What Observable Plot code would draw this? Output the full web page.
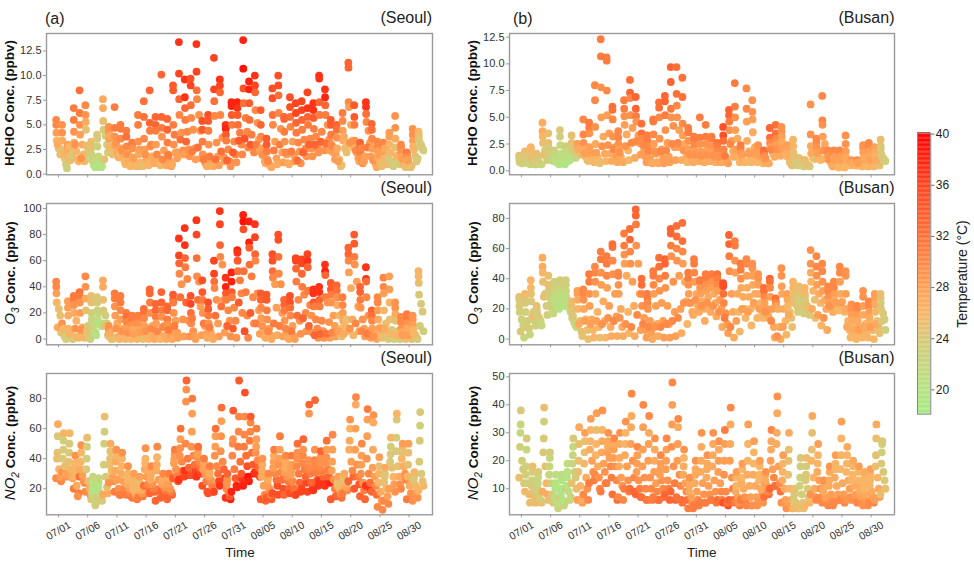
<!DOCTYPE html>
<html><head><meta charset="utf-8">
<script src="https://cdn.jsdelivr.net/npm/d3@7"></script>
<script src="https://cdn.jsdelivr.net/npm/@observablehq/plot@0.6"></script>
<style>
html,body{margin:0;padding:0;background:#fff}
#page{position:relative;width:974px;height:564px;overflow:hidden;font-family:"Liberation Sans",Arial,sans-serif;color:#222}
#page svg{position:absolute;overflow:visible;background:transparent}
.t{position:absolute;white-space:nowrap;line-height:1}
.rot{transform:translate(-50%,-50%) rotate(-90deg);font-size:13.5px;font-weight:bold;color:#111}
.rot i{font-weight:normal;font-size:15px}
.rot sub{font-size:10px;line-height:0}
</style></head><body><div id="page"></div>
<script>
// rows: one per day, eight readings each
const seoulTemp=[
30,30,28,26,25,25,24,27, 29,29,27,25,24,24,23,26, 28,28,27,26,25,24,24,26, 31,31,29,27,26,26,26,29,
32,31,29,28,27,26,26,29, 30,29,27,25,24,23,23,25, 25,25,23,22,21,20,20,22, 24,24,23,21,20,20,20,22,
27,27,25,24,23,23,23,25, 29,29,28,26,25,25,25,27, 31,31,29,28,27,27,26,29, 31,31,30,28,27,26,26,29,
31,32,30,28,27,26,26,29, 31,31,29,27,26,26,26,28, 31,31,29,27,26,26,25,28, 32,32,30,28,27,26,26,29,
33,33,31,29,27,27,27,30, 33,33,31,28,27,27,26,30, 33,33,31,29,28,27,27,30, 33,33,31,29,28,28,27,31,
34,34,31,29,28,28,28,31, 37,36,33,30,29,29,28,32, 37,37,33,31,30,29,29,33, 35,36,32,30,29,28,28,31,
37,36,32,30,29,28,28,32, 35,34,31,29,28,28,27,31, 35,34,31,29,28,27,27,31, 36,36,32,30,29,28,28,32,
37,36,33,30,29,29,28,32, 37,38,34,31,30,29,29,33, 38,38,34,31,30,30,29,34, 38,37,34,32,31,30,30,34,
38,39,35,32,31,30,30,35, 38,38,34,32,31,30,30,34, 37,36,33,30,29,28,28,31, 34,33,30,28,27,27,27,29,
34,34,31,29,28,27,27,30, 35,35,32,30,28,28,27,31, 35,35,32,30,29,28,28,31, 33,33,31,29,28,27,27,30,
35,35,32,30,28,28,28,31, 36,36,33,31,30,29,29,32, 36,36,33,31,30,30,29,33, 36,37,33,31,30,29,29,33,
37,37,34,31,30,30,29,33, 37,37,33,31,30,29,29,33, 37,38,33,31,29,29,28,32, 34,34,31,29,28,28,28,30,
33,32,29,27,26,25,25,28, 31,30,28,27,26,25,25,27, 33,33,30,28,27,27,26,29, 34,34,31,29,28,28,27,30,
33,33,31,29,29,28,28,30, 37,37,32,30,29,28,28,31, 33,32,30,28,28,27,27,29, 30,30,28,27,26,26,25,28,
30,30,28,26,25,25,24,27, 28,28,26,25,24,24,23,26, 29,29,27,25,24,24,24,26, 30,30,29,27,26,25,25,28,
31,31,29,27,26,25,25,28, 29,29,28,26,25,24,24,26, 26,26,25,24,24,24,23,24];
const seoulHCHO=[
5.5,5,4.2,3.4,2.6,2,2.3,3, 5,4.2,3.4,2.5,1.6,1,.6,2, 3,2.7,2.2,1.7,1.4,1.9,2.4,2.8, 6.7,5.5,4.3,3.2,2.3,1.5,1.3,3,
8.5,6.2,5,4,3,2,1.3,1.6, 7,6,5.3,4.5,2.6,1.7,2.2,2.9, 3.3,2.7,2,1.4,.9,.7,.7,1.5, 4,3.6,2.8,1.6,1,.7,.8,1.8,
7.6,6.7,5.4,4.5,3.9,3,2.2,1.5, 4.8,4.3,3.6,2.7,2.2,2,3,3.9, 6.8,4.7,3.8,2.9,2.2,1.7,2,3.2, 5,4.6,3.6,2.6,2,1.3,1,2.4,
4.4,3.8,2.8,2,1.2,.8,.9,2, 3.2,3,2.6,1.7,1.1,.8,.8,1.6, 6,5,3.3,2,1.2,.8,.8,2.5, 7.4,5.8,3.6,2.5,1.5,1,.9,2,
8.5,5.2,4.4,2.8,1.8,1.2,1.1,3, 5.8,5,4.4,3,1.5,1,.9,2, 10.1,5.8,4.7,3.8,2.4,1.2,.9,1.5, 5.6,4.5,3.2,2,1.3,.8,1,1.9,
9,8.5,5,3,2.2,1.6,2.2,4, 13.4,10.2,7.6,6,4.2,2.4,2,3.5, 9.6,7.8,6.7,5.5,4.3,2.5,1.8,3.3, 9.7,9,7,5.7,4.5,2.6,1.5,2.3,
13.2,10.4,8.5,7.6,6,4.4,1.6,2.7, 5.4,4.5,3.3,2,1.2,.9,.8,1.5, 6,5.4,4.4,3,1.5,1,.8,1.8, 11.8,8.6,7.4,5.9,3.2,1.8,.9,1.5,
9.6,9,8.3,6,3.7,1.7,1.3,2.3, 5,4.6,4,3.4,2.5,1.3,.8,1.4, 7.3,6.9,6,5,3.3,2,1.2,2.2, 7.3,6.7,6,5,4.2,3,2,3.4,
13.6,10.7,8.7,7.2,5.7,4.3,2.7,3.6, 9.4,8.6,7.2,5.5,4,2.8,2.2,3, 10,9,8.3,6.5,5.2,3.5,2.4,3, 6.5,5,3.8,2.6,1.9,1.3,1.1,2,
3.6,3,2.3,1.5,1,.8,.7,1.3, 8.7,7.7,6,5,3.3,1.6,1,2.4, 10,9,8,6.2,4.6,2.2,1.2,3, 5.8,5.6,4.3,3.3,2,1.1,1,2.2,
7.8,6.8,5.8,4.8,3.3,1.9,1.3,2.3, 7.2,6.2,5.2,4.2,3.2,2.3,1.1,1.4, 7.4,6.5,5.5,4.5,3.5,2.6,1.8,2.2, 8.3,6.7,5.8,5,3.6,2.6,1.8,3,
7.2,6.5,5.7,4.6,3.8,2.8,2.2,3, 10,9.7,7.3,6,4.3,3.2,2.4,3.3, 8.6,7.8,7,6,5,3.5,2.4,3.1, 5.5,5,4,3,2.2,1.5,2,2.8,
5,4.5,3.7,2.6,1.5,.8,.9,1.3, 6.2,5.4,4.4,3.4,2.6,2.2,3,3.8, 11.3,10.8,7.3,6.8,5,3.4,2.7,3.2, 7,5.8,5,3.4,2.2,1.6,1.3,2.4,
3.2,2.9,2.2,1.6,1.1,1.3,1.8,2.6, 7.3,6.8,6.1,5.3,4.4,3.2,1.8,2.7, 5.1,4.5,3.6,2.6,1.6,1,.7,1.4, 3.3,2.9,2.3,1.6,1.1,.8,1,2,
3.2,2.8,2.2,1.6,1.1,1,1.8,2.6, 4.2,3.8,3,2.2,1.3,.8,1,2.2, 5.9,4.7,3.6,2.7,1.9,1.2,1,1.8, 3,2.7,2.2,1.7,1,.8,.7,1.5,
2.2,2,1.7,1.4,.9,.7,.9,1.4, 4.6,4,3.4,2.8,1.8,1.3,1.6,2.5, 4.3,4.1,3.8,3.4,3,2.6,2.4,2.8];
const seoulO3=[
44,40,35,28,23,18,5,9, 12,9,7,5,2,0,1,8, 29,24,18,8,5,2,0,4, 33,30,26,20,14,2,1,8,
36,33,28,20,9,2,1,7, 48,40,31,22,10,3,0,6, 33,28,20,15,10,5,3,9, 32,28,22,15,12,10,12,20,
45,40,30,22,18,12,3,10, 10,7,4,2,0,0,1,5, 35,31,25,18,12,2,0,8, 33,28,22,15,8,2,0,6,
20,17,13,8,4,1,0,5, 18,15,11,7,3,1,0,4, 18,16,12,7,3,1,0,5, 23,20,16,10,4,1,0,6,
38,35,28,20,10,3,0,8, 27,22,17,12,5,2,0,6, 36,28,22,17,10,3,0,9, 25,22,15,11,6,2,0,7,
34,30,28,20,14,5,1,10, 77,64,58,50,42,15,2,32, 85,72,62,55,46,14,2,28, 33,27,20,12,6,2,0,16,
91,80,62,48,44,25,3,30, 45,36,30,20,10,4,1,12, 28,23,18,12,5,2,0,9, 60,50,44,39,30,12,2,18,
98,88,72,63,57,30,5,25, 47,40,35,30,22,14,2,10, 51,44,36,32,24,14,1,8, 68,66,60,52,45,35,20,28,
95,90,84,52,36,18,1,6, 90,74,70,57,48,32,12,20, 88,78,65,60,35,22,4,12, 35,30,24,16,8,2,1,10,
34,30,22,15,8,3,0,6, 65,60,52,47,42,24,3,12, 80,76,63,50,42,20,2,10, 30,26,22,14,5,1,0,8,
33,28,24,18,10,2,0,6, 62,60,54,44,30,14,4,18, 61,58,50,40,34,20,6,16, 65,60,55,37,26,18,5,10,
38,35,28,25,15,8,1,3, 40,36,30,25,14,6,1,4, 57,52,49,32,28,13,1,4, 43,38,34,28,18,10,2,5,
41,37,32,26,18,8,2,6, 32,26,20,14,10,15,6,4, 70,65,60,51,39,15,3,8, 80,73,63,57,44,25,6,12,
40,36,30,24,15,8,2,6, 55,46,44,32,18,6,1,4, 22,18,14,8,3,1,0,2, 32,28,22,15,9,4,1,8,
47,40,35,22,12,5,0,8, 48,38,28,15,7,2,0,4, 28,24,19,14,6,1,0,3, 17,13,8,5,2,1,0,3,
19,16,12,8,4,1,0,3, 18,15,11,7,3,1,0,4, 52,48,43,34,27,21,6,10, 27,24,11,8,6,4,2,1];
const seoulNO2=[
27,25,28,33,40,44,55,63, 31,28,30,35,40,46,52,57, 30,27,28,33,38,44,50,57, 20,17,15,22,28,32,37,42,
28,24,25,29,33,38,44,49, 18,16,20,25,33,40,48,54, 13,11,9,13,17,20,24,28, 14,12,14,17,20,21,24,27,
16,17,21,28,36,50,58,68, 24,25,28,32,36,40,45,50, 18,16,20,26,32,38,42,46, 16,18,20,25,30,35,40,44,
16,15,17,20,23,26,30,35, 14,13,15,17,20,23,26,30, 14,15,17,19,21,23,25,28, 22,20,23,28,33,37,40,47,
17,18,20,23,26,29,32,35, 12,14,20,26,32,36,41,48, 18,17,19,21,23,25,27,30, 13,16,18,20,23,25,27,30,
27,25,29,33,37,40,43,46, 26,28,32,38,42,47,53,60, 32,29,34,40,50,78,86,92, 29,32,36,42,48,58,70,80,
28,30,34,38,41,43,46,48, 22,18,25,30,33,35,38,40, 17,18,22,26,28,30,32,35, 18,25,30,35,42,48,55,60,
22,27,33,38,45,55,65,74, 14,13,15,18,20,23,26,30, 18,22,27,33,42,50,53,72, 21,26,30,38,48,58,68,92,
22,28,35,42,48,56,68,84, 25,30,36,44,52,58,64,68, 31,28,34,39,44,48,53,60, 13,12,16,22,28,32,36,40,
14,13,16,20,23,26,28,30, 17,22,26,30,34,38,42,46, 16,20,26,31,36,40,46,55, 16,20,25,28,31,34,38,42,
17,16,20,25,29,32,36,42, 16,18,24,30,35,40,44,50, 20,24,28,33,37,42,46,53, 18,20,24,30,34,39,70,76,
19,22,26,31,35,39,46,79, 25,26,28,31,34,37,41,45, 22,24,28,33,37,41,46,52, 13,15,20,26,32,38,46,56,
15,14,17,20,22,24,26,28, 17,19,21,23,25,26,28,30, 25,28,32,38,46,52,60,66, 20,23,28,36,46,60,76,81,
15,13,19,24,30,36,42,50, 22,19,24,30,40,55,66,73, 18,16,22,28,34,46,64,69, 8,6,12,18,24,30,35,41,
12,10,15,20,24,28,30,34, 20,23,28,34,38,43,48,54, 18,23,28,35,45,54,66,70, 20,26,30,35,40,44,47,50,
13,14,17,22,28,36,44,50, 12,14,18,22,25,27,29,31, 19,22,25,30,38,52,62,71, 24,30,43,50,59,67,80,84];
const busanTemp=[
25,24,24,23,23,22,22,24, 26,25,24,23,23,23,22,24, 26,26,25,24,24,23,23,25, 25,25,24,23,23,22,22,24,
27,27,26,25,24,24,23,25, 25,25,24,23,22,22,22,23, 23,23,22,21,21,20,20,21, 24,23,22,20,20,19,19,21,
23,23,22,21,20,20,20,21, 25,25,24,23,22,22,22,24, 28,28,27,26,25,25,25,27, 30,30,29,27,26,25,25,28,
31,31,29,28,27,26,26,28, 30,30,29,27,26,26,25,28, 31,31,29,28,27,27,26,29, 31,31,30,28,28,27,27,29,
32,32,30,29,28,28,27,30, 30,30,29,28,27,27,27,29, 31,31,29,28,27,26,26,29, 32,33,30,29,28,27,27,30,
33,33,31,29,28,28,28,30, 32,32,30,29,28,28,28,30, 31,31,30,29,28,28,27,30, 31,31,30,28,28,27,27,29,
32,32,30,29,28,28,28,30, 33,33,31,29,28,28,28,30, 33,33,31,29,29,28,28,30, 32,32,30,29,28,28,27,30,
32,32,30,28,27,27,26,29, 31,31,29,28,27,27,27,29, 31,31,30,28,27,27,27,29, 31,31,29,28,27,27,27,29,
31,31,29,28,27,27,27,29, 31,31,29,28,27,27,27,29, 32,31,30,28,28,28,27,29, 35,35,32,30,29,28,28,31,
33,33,31,29,28,27,27,30, 31,31,29,28,27,26,26,28, 31,31,29,27,27,26,26,28, 30,30,28,27,27,26,26,28,
29,29,28,27,27,26,26,28, 29,29,28,27,26,26,26,28, 32,32,30,28,28,27,27,29, 33,32,30,28,28,27,27,30,
32,32,30,28,27,27,27,29, 29,29,28,27,27,26,26,28, 28,28,27,26,25,25,25,27, 26,26,25,25,24,24,24,25,
25,25,24,23,23,23,23,24, 26,26,25,24,24,24,24,25, 29,29,27,26,26,25,25,27, 30,30,29,28,27,26,26,28,
30,30,29,28,27,27,27,29, 30,30,29,28,27,27,27,29, 30,30,28,27,27,26,26,28, 30,30,28,27,26,26,26,28,
29,29,28,27,26,26,26,27, 29,29,28,27,26,26,26,27, 30,30,28,27,27,26,26,28, 29,29,28,27,26,26,26,27,
30,30,28,27,26,26,26,28, 28,28,27,26,25,25,25,27, 25,25,24,24,24,23,23,24];
const busanHCHO=[
1.4,1.2,1,.8,.7,.7,.8,1, 1.8,1.6,1.3,1,.8,.7,.6,1.2, 2.2,2,1.5,1.1,.8,.6,.6,1.2, 1.6,1.4,1.1,.9,.7,.6,.6,1,
4.5,3.7,3.2,2.6,1.9,1.3,1,1.5, 3.5,2.6,2.2,1.7,1.3,1,.9,1.4, 1.9,1.7,1.3,1,.8,.7,.6,1.1, 3.8,3.2,2.4,1.6,1,.7,.6,1.3,
2.3,2,1.6,1.2,.9,1,1.2,1.8, 3.3,2.6,2.2,1.8,1.5,1.2,1.4,2, 2.5,2.3,2.1,1.9,1.7,1.5,1.6,2, 4.8,3.4,2.6,1.9,1.3,1,.9,1.6,
4.5,4,3.5,2.2,1.4,1,.8,1.7, 8,6.6,4.1,2.5,1.3,.9,.7,1.7, 12.3,10.7,7.8,5,3.2,1.6,.9,2.3, 10.6,10.3,7.5,5.2,3.5,1.6,.9,2.4,
6,5.7,4.8,3.2,2.2,1.3,.8,2, 3.7,3.1,2.5,2,1.3,.9,.8,1.7, 6.6,5.8,5.1,4.3,3.4,1.9,1,2.3, 8.5,7.3,6.8,5.2,4,2.7,1.2,2.6,
6.9,5.8,5.1,4.6,3.3,2.6,1.5,2.8, 4.4,3.5,3,2.5,1.9,1.3,.8,2.4, 3.3,2.8,2.3,1.7,1.1,.8,.7,1.9, 4.8,4.6,3.4,2.5,1.6,.8,.7,1.8,
6.4,5.9,5,3,2,1.2,.7,1.8, 7,6.5,5.2,3.8,2.6,1.3,.8,1.9, 9.7,8.3,5.8,5,4.2,2.2,1,2.5, 9.7,7.2,6.1,5,3.8,2.2,1,2.6,
8.7,6.9,4.4,3.3,2.5,1.3,.8,1.9, 4,3.6,2.8,2,1.3,.9,.8,1.5, 3.2,3,2.4,1.8,1.3,.9,.9,1.5, 5,3.1,2.5,1.8,1.2,.8,.8,1.4,
4.3,3.2,2.5,1.8,1.1,.9,.9,1.5, 3.2,3,2.3,1.7,1.1,.8,.8,1.4, 2.6,2.3,1.8,1.4,1,.8,.8,1.3, 4.1,3.3,2.8,2,1.3,.9,.7,1.4,
5.7,5.2,4.6,3.8,2.8,1.8,1.3,2.5, 8.2,6,5,3.8,3,1.8,.8,2, 2.4,2.1,1.7,1.3,.9,.8,.8,1.5, 7.7,5.8,4.6,2.8,1.8,1,.8,1.6,
6.6,5.5,4.8,3.6,2.2,1.2,.8,1.6, 2.4,2.1,1.7,1.3,1,.8,.7,1.4, 1.9,1.7,1.4,1.1,.8,.7,.7,1.2, 4,3.1,2.6,2.2,1.8,1.5,1.3,2,
4.3,3.5,3,2.5,2,1.6,1.4,2, 4.1,3.7,3.2,2.7,2.2,1.7,1.4,2.1, 2.4,2.1,1.7,1.3,.8,.6,.5,1.4, 2.9,2.3,1.7,1.2,.8,.6,.5,1.3,
1.2,1.1,.9,.7,.6,.5,.4,.8, 1,1,.8,.7,.5,.5,.4,.7, 6.2,3.4,2.3,1.6,1.2,1.1,1.2,1.7, 3,2.7,2.2,1.7,1.2,1,1.1,1.7,
7,4.7,4.3,3.2,2.5,1.8,1.1,1.9, 1.9,1.7,1.4,1.1,.8,.5,.4,1.1, 1.9,1.7,1.3,1,.7,.5,.3,1, 1.9,1.6,1.3,1,.7,.5,.3,1,
3.3,2.5,1.8,1.2,.8,.6,.5,1, 1,.9,.8,.7,.6,.5,.5,.7, 1,.9,.8,.7,.5,.5,.4,.7, 2.4,2.1,1.7,1.2,.8,.5,.4,1,
2.6,2.2,1.8,1.3,.8,.5,.4,1, 2.2,2,1.7,1.3,.9,.6,.5,1, 2.3,2.9,2.1,1.6,1.2,1,.9,1.3];
const busanO3=[
28,26,22,18,13,9,1,5, 30,28,24,18,12,7,3,8, 39,34,30,25,18,12,9,15, 22,20,18,16,14,12,9,15,
54,48,44,38,30,22,16,28, 42,36,32,28,24,20,17,22, 38,34,30,27,24,22,20,24, 39,37,33,29,26,24,22,26,
39,36,32,28,24,20,18,22, 25,22,18,14,11,9,8,15, 32,30,26,20,12,5,2,10, 33,30,26,20,13,6,0,12,
43,38,30,22,13,6,1,10, 48,44,38,30,18,8,1,12, 58,53,44,36,25,12,1,10, 55,50,42,34,22,8,2,14,
63,61,52,43,30,15,2,12, 44,42,36,30,20,8,2,14, 70,62,56,50,42,18,4,10, 73,66,58,50,38,22,2,8,
86,82,76,62,50,30,6,16, 40,36,30,22,14,6,1,10, 30,27,24,20,12,4,0,8, 45,42,36,30,22,10,2,8,
54,48,40,32,24,12,1,8, 53,50,42,34,22,10,1,10, 73,70,62,55,38,18,2,12, 75,68,60,52,42,20,4,14,
77,65,58,50,38,25,10,24, 44,40,36,30,24,18,16,24, 53,50,44,38,30,22,18,26, 39,38,34,30,25,20,12,22,
43,40,36,32,28,22,18,24, 43,42,38,34,30,24,15,22, 43,40,36,32,26,20,8,18, 37,35,30,24,17,10,4,14,
69,63,55,45,30,18,1,8, 65,62,52,44,30,18,5,12, 50,46,40,34,28,20,14,20, 53,50,42,34,28,20,9,18,
50,47,42,36,30,22,14,24, 43,40,36,30,24,18,14,20, 34,32,28,24,20,16,14,18, 40,38,34,28,20,8,1,12,
27,25,24,22,20,8,0,2, 47,42,35,30,20,12,3,8, 30,28,26,22,18,14,8,16, 38,34,30,26,24,22,18,24,
35,32,28,25,22,20,17,22, 34,30,28,25,22,18,16,22, 59,50,44,38,32,26,14,20, 55,48,42,36,30,24,9,16,
50,45,38,32,26,20,6,14, 35,32,28,24,22,20,18,22, 38,34,30,26,23,20,19,24, 48,44,38,30,25,20,18,24,
45,42,30,20,12,6,1,8, 23,20,16,12,8,4,0,6, 22,20,16,12,8,4,1,6, 32,28,22,16,10,5,1,8,
25,22,18,14,10,6,0,8, 30,27,23,18,12,8,4,10, 30,27,24,20,17,13,6,12];
const busanNO2=[
14,12,17,20,25,30,33,38, 9,5,8,12,15,18,24,28, 8,5,6,9,11,13,16,18, 7,5,6,8,10,12,14,16,
9,8,12,18,23,28,34,39, 6,5,8,12,15,18,21,23, 6,4,3,5,7,10,12,15, 7,5,4,6,8,10,13,15,
10,7,6,9,11,14,16,19, 12,10,14,16,19,22,25,28, 6,5,6,11,16,20,26,32, 8,6,10,14,19,23,27,30,
12,13,16,20,24,27,31,35, 15,10,14,18,22,26,31,37, 9,12,16,19,23,27,31,38, 12,14,18,21,23,25,27,30,
8,6,13,18,21,24,26,28, 7,6,11,14,18,21,26,30, 10,9,13,18,22,26,30,34, 10,9,14,20,26,32,36,44,
8,7,10,13,16,19,22,25, 7,6,10,14,18,24,32,40, 6,6,10,14,20,26,30,36, 7,6,9,12,16,20,24,28,
6,7,10,13,15,17,19,22, 8,6,10,13,17,20,24,28, 9,6,12,18,25,33,40,48, 7,6,11,15,20,26,32,35,
5,6,9,12,15,18,21,24, 3,3,5,7,9,11,13,14, 4,4,6,9,12,15,17,20, 5,5,8,12,16,20,25,30,
5,6,8,11,14,17,19,22, 6,5,9,13,18,22,26,30, 6,6,9,12,16,20,24,27, 5,4,5,9,15,20,26,31,
6,6,10,14,20,26,33,39, 5,4,5,7,9,11,14,16, 6,5,7,10,12,14,17,19, 4,4,7,11,15,20,26,33,
4,4,7,11,15,19,23,27, 5,5,8,10,13,15,18,20, 7,8,9,11,12,13,15,16, 10,11,14,17,20,24,27,31,
11,9,12,18,26,30,37,43, 5,3,6,10,13,16,19,22, 5,3,6,10,15,20,24,30, 3,3,4,5,6,8,9,10,
3,3,5,8,11,14,18,21, 4,5,7,10,13,15,18,21, 8,7,10,14,20,24,30,36, 6,7,10,13,16,19,22,26,
5,5,6,7,9,10,12,13, 4,4,6,8,11,13,16,18, 5,6,8,11,14,17,19,22, 6,5,8,12,17,22,28,34,
6,7,10,13,16,19,22,25, 6,6,8,11,13,15,18,20, 5,5,7,9,11,13,16,18, 4,4,6,8,10,12,14,16,
5,5,7,9,11,13,15,17, 6,7,10,14,18,22,28,33, 8,10,13,16,19,23,26,27];
// position of each of a day's eight readings within that day
const daytimePeakOffsets=[.1,.12,.15,.2,.55,.8,.95,.35];
const morningPeakOffsets=[.1,.95,.8,.6,.25,.32,.37,.4];
const dateLabels=["07/01","07/06","07/11","07/16","07/21","07/26","07/31","08/05","08/10","08/15","08/20","08/25","08/30"];
const tempTicks=[20,24,28,32,36,40];
const colorStops=[18.1,20,24,26,28,32,36,40];
const colorRange=["#a8ea85","#b5e282","#d8c878","#f8b566","#ff9f55","#ff7038","#ff4420","#ff0000"];
const hchoSeoulTicks=[0,2.5,5,7.5,10,12.5], o3SeoulTicks=[0,20,40,60,80,100], no2SeoulTicks=[20,40,60,80];
const hchoBusanTicks=[0,2.5,5,7.5,10,12.5], o3BusanTicks=[0,20,40,60,80], no2BusanTicks=[10,20,30,40,50];

const page=document.getElementById("page");
const day=n=>new Date(Date.UTC(2021,6,1)+n*864e5);
const tickDate=s=>new Date(Date.UTC(2021,+s.slice(0,2)-1,+s.slice(3)));
const colorScale={type:"linear",domain:colorStops,range:colorRange,clamp:true};
const gray="#9a9a9a";
function panel(o){
  const rows=o.values.map((v,i)=>({time:day(-0.5+Math.floor(i/8)+o.off[i%8]),v,t:o.temps[i]}));
  const mT=8,mB=o.labels?48:6,H=141.3;
  const fig=Plot.plot({
    width:460,height:mT+H+mB,marginTop:mT,marginBottom:mB,marginLeft:o.ml,marginRight:460-o.ml-o.w,
    style:{background:"transparent",fontFamily:'"Liberation Sans",Arial,sans-serif',fontSize:"11px",color:"#333"},
    x:{type:"utc",domain:[day(-2.05),day(64)]},
    y:{domain:o.yd},
    color:colorScale,
    marks:[
      Plot.dot(rows,{x:"time",y:"v",fill:"t",r:3.9,stroke:"none"}),
      Plot.frame({stroke:gray,strokeWidth:1.4}),
      Plot.axisY({ticks:o.yt,tickSize:3,stroke:gray,tickPadding:2,label:null,fill:"#333",tickFormat:o.yf,fontSize:11}),
      o.labels
        ?Plot.axisX({ticks:dateLabels.map(tickDate),tickSize:3,stroke:gray,label:null,fill:"#333",fontSize:10.5,
            tickFormat:d=>d3.utcFormat("%m/%d")(d),tickRotate:-30,textAnchor:"middle",tickPadding:13})
        :Plot.axisX({ticks:dateLabels.map(tickDate),tickSize:3,stroke:gray,label:null,tickFormat:()=>""})
    ]});
  fig.style.left=o.left+"px";fig.style.top=(o.top-mT)+"px";
  page.appendChild(fig);
}
const f1=d=>d.toFixed(1), f0=d=>String(d);
const tops=[32.7,202.7,373.2];
const D=daytimePeakOffsets,M=morningPeakOffsets;
panel({left:0,ml:46,w:386,top:tops[0],values:seoulHCHO,temps:seoulTemp,off:D,yd:[-.07,14.27],yt:hchoSeoulTicks,yf:f1});
panel({left:0,ml:46,w:386,top:tops[1],values:seoulO3,temps:seoulTemp,off:D,yd:[-4.4,103.8],yt:o3SeoulTicks,yf:f0});
panel({left:0,ml:46,w:386,top:tops[2],values:seoulNO2,temps:seoulTemp,off:M,yd:[2.67,96.67],yt:no2SeoulTicks,yf:f0,labels:true});
panel({left:470,ml:39,w:385,top:tops[0],values:busanHCHO,temps:busanTemp,off:D,yd:[-.38,12.84],yt:hchoBusanTicks,yf:f1});
panel({left:470,ml:39,w:385,top:tops[1],values:busanO3,temps:busanTemp,off:D,yd:[-3.8,89.9],yt:o3BusanTicks,yf:f0});
panel({left:470,ml:39,w:385,top:tops[2],values:busanNO2,temps:busanTemp,off:M,yd:[.68,51.2],yt:no2BusanTicks,yf:f0,labels:true});

// colour bar
const steps=d3.range(18.1,40.05,.1);
const bar=Plot.plot({
  width:50,height:300.7,marginTop:10,marginBottom:10,marginLeft:1,marginRight:35.7,
  style:{background:"transparent",fontFamily:'"Liberation Sans",Arial,sans-serif',fontSize:"12px",color:"#222"},
  x:{domain:[0,1],axis:null},y:{domain:[18.1,40.05]},color:colorScale,
  marks:[
    Plot.rect(steps,{x1:0,x2:1,y1:d=>d,y2:d=>d+.11,fill:d=>d}),
    Plot.frame({stroke:"#888",strokeWidth:1}),
    Plot.axisY({anchor:"right",ticks:tempTicks,tickSize:3,tickPadding:2,stroke:"#666",label:null,fill:"#222",fontSize:12})
  ]});
bar.style.left="915.7px";bar.style.top="123.3px";
page.appendChild(bar);

function text(html,x,y,css,cls){
  const d=document.createElement("div");d.className="t "+(cls||"");d.innerHTML=html;
  d.style.left=x+"px";d.style.top=y+"px";if(css)d.style.cssText+=css;page.appendChild(d);
}
const centre="transform:translate(-50%,-50%);";
text("(a)",45,18.5,"font-size:16px;transform:translateY(-50%);");
text("(b)",513,18.5,"font-size:16px;transform:translateY(-50%);");
[[17.5,"(Seoul)",432],[188,"(Seoul)",432],[358,"(Seoul)",432],[17.5,"(Busan)",894.5],[188,"(Busan)",894.5],[358,"(Busan)",894.5]].forEach(([y,s,x])=>
  text(s,x,y,"font-size:16px;transform:translate(-100%,-50%);"));
const yLabels=['HCHO Conc. (ppbv)','<i>O<sub>3</sub></i> Conc. (ppbv)','<i>NO<sub>2</sub></i> Conc. (ppbv)'];
[103,273,443].forEach((y,i)=>{text(yLabels[i],10,y,"","rot");text(yLabels[i],473,y,"","rot");});
text("Time",240,553,"font-size:13.5px;"+centre);
text("Time",701.7,553,"font-size:13.5px;"+centre);
text("Temperature (°C)",962,274,"font-size:14px;transform:translate(-50%,-50%) rotate(-90deg);");
</script></body></html>
